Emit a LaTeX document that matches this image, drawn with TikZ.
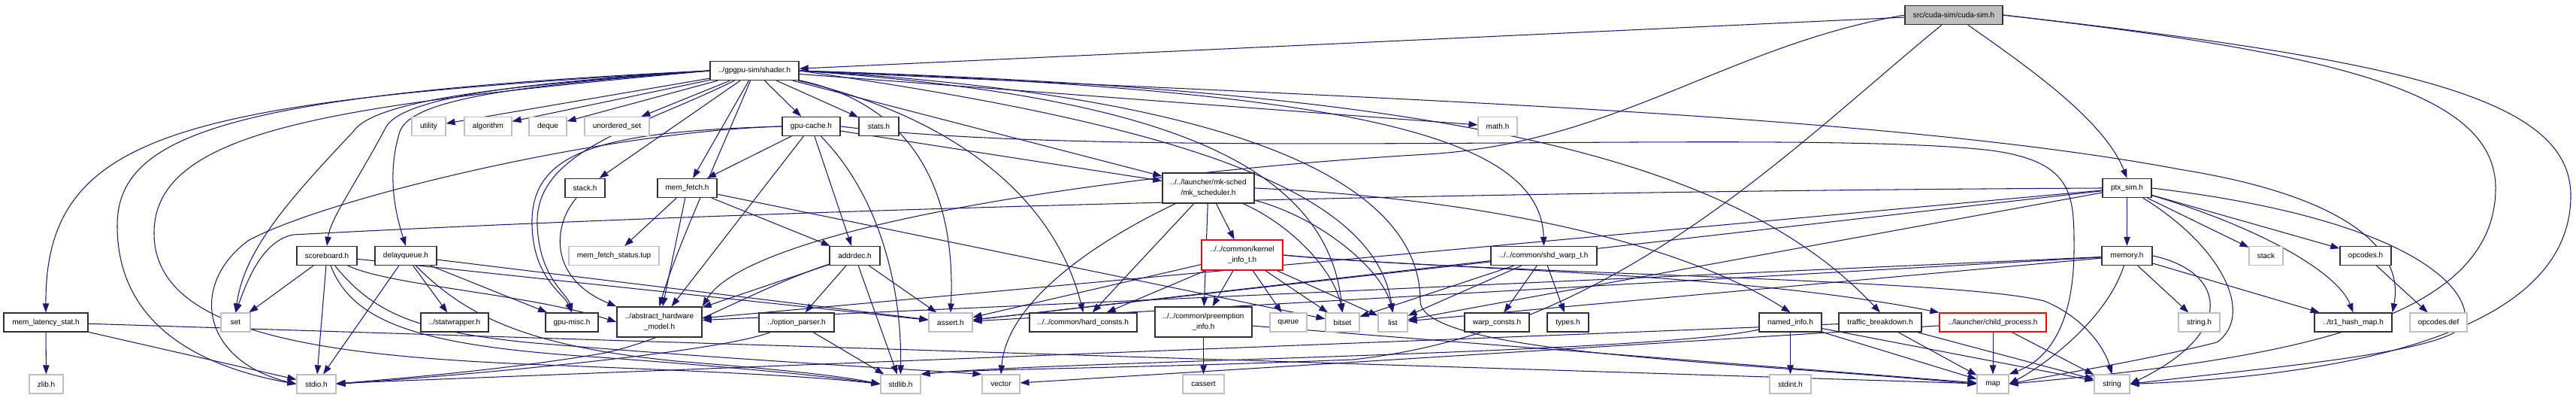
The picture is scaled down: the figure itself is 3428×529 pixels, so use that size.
\documentclass[tikz,border=0pt]{standalone}
\usepackage{fontspec}
\setmainfont{Liberation Sans}
\usetikzlibrary{arrows.meta}
\definecolor{edgeblue}{RGB}{25,25,112}
\definecolor{boxgrey}{RGB}{191,191,191}
\definecolor{frame}{RGB}{48,48,48}
\pgfdeclarelayer{bg}
\pgfsetlayers{bg,main}
\newcommand\gn[6]{\node[#5,minimum width=#4pt] (#1) at (#2,#3) {#6};}
\begin{document}
\begin{tikzpicture}[x=1pt,y=-1pt,
  every node/.style={font=\fontsize{10}{14}\selectfont, inner sep=0pt, minimum height=25pt, align=center, fill=white},
  hdr/.style={draw=frame, line width=1.4pt},
  sys/.style={draw=boxgrey, line width=1.1pt},
  redb/.style={draw=red, line width=1.3pt},
  root/.style={draw=frame, fill=boxgrey, line width=1.4pt},
  tall/.style={minimum height=40pt},
  edge/.style={draw=edgeblue, line width=1.05pt, -{Triangle[length=12pt,width=8.5pt]}},
]
\useasboundingbox (0,0) rectangle (3428,529);
% row A, B
\gn{cudasim}{2600}{20}{130}{root}{src/cuda-sim/cuda-sim.h}
\gn{shader}{1004}{94}{118}{hdr}{../gpgpu-sim/shader.h}
% row C
\gn{utility}{570.5}{168}{45}{sys}{utility}
\gn{algorithm}{649.5}{168}{63}{sys}{algorithm}
\gn{deque}{729}{168}{50}{sys}{deque}
\gn{unorderedset}{821}{168}{86}{sys}{unordered\_set}
\gn{gpucache}{1079.5}{168}{77}{hdr}{gpu-cache.h}
\gn{stats}{1169.5}{168}{53}{hdr}{stats.h}
\gn{math}{1993}{168}{52}{sys}{math.h}
% row D
\gn{stackh}{778.5}{250}{53}{hdr}{stack.h}
\gn{memfetch}{914.5}{250}{79}{hdr}{mem\_fetch.h}
\gn{mksched}{1608}{250}{122}{hdr,tall}{../../launcher/mk-sched\\/mk\_scheduler.h}
\gn{ptxsim}{2830.5}{250}{65}{hdr}{ptx\_sim.h}
% row E
\gn{scoreboard}{435}{340}{80}{hdr}{scoreboard.h}
\gn{delayqueue}{540}{340}{82}{hdr}{delayqueue.h}
\gn{memfetchstatus}{817}{340}{120}{sys}{mem\_fetch\_status.tup}
\gn{addrdec}{1137.5}{340}{67}{hdr}{addrdec.h}
\gn{kernelinfo}{1653}{339}{108}{redb,tall}{../../common/kernel\\\_info\_t.h}
\gn{shdwarp}{2054.5}{340}{141}{hdr}{../../common/shd\_warp\_t.h}
\gn{memory}{2830.5}{340}{67}{hdr}{memory.h}
\gn{stackstd}{3015.5}{340}{45}{sys}{stack}
\gn{opcodes}{3148}{340}{68}{hdr}{opcodes.h}
% row F
\gn{memlat}{61}{428.5}{112}{hdr}{mem\_latency\_stat.h}
\gn{set}{313.5}{428.5}{39}{sys}{set}
\gn{statwrapper}{605}{428.5}{90}{hdr}{../statwrapper.h}
\gn{gpumisc}{761}{428.5}{70}{hdr}{gpu-misc.h}
\gn{ahm}{877.5}{428}{113}{hdr,tall}{../abstract\_hardware\\\_model.h}
\gn{optparser}{1060}{428.5}{100}{hdr}{../option\_parser.h}
\gn{assert}{1265}{428.5}{58}{sys}{assert.h}
\gn{hardconsts}{1441.5}{428.5}{143}{hdr}{../../common/hard\_consts.h}
\gn{preempt}{1601.5}{428}{129}{hdr,tall}{../../common/preemption\\\_info.h}
\gn{queue}{1714.5}{428.5}{49}{sys}{queue}
\gn{bitset}{1786.5}{428.5}{45}{sys}{bitset}
\gn{list}{1853.5}{428.5}{39}{sys}{list}
\gn{warpconsts}{1992}{428.5}{86}{hdr}{warp\_consts.h}
\gn{types}{2086.5}{428.5}{55}{hdr}{types.h}
\gn{namedinfo}{2382.5}{428.5}{83}{hdr}{named\_info.h}
\gn{traffic}{2502}{428.5}{110}{hdr}{traffic\_breakdown.h}
\gn{childproc}{2652}{428.5}{142}{redb}{../launcher/child\_process.h}
\gn{stringh}{2926.5}{428.5}{55}{sys}{string.h}
\gn{tr1}{3131.5}{428.5}{103}{hdr}{../tr1\_hash\_map.h}
\gn{opcodesdef}{3245}{428.5}{76}{sys}{opcodes.def}
% row G
\gn{zlib}{61.5}{510.5}{45}{sys}{zlib.h}
\gn{stdio}{421}{510.5}{52}{sys}{stdio.h}
\gn{stdlib}{1198.5}{510.5}{53}{sys}{stdlib.h}
\gn{vector}{1332}{510.5}{50}{sys}{vector}
\gn{cassert}{1601.5}{510.5}{55}{sys}{cassert}
\gn{stdint}{2382.5}{510.5}{55}{sys}{stdint.h}
\gn{map}{2652}{510.5}{42}{sys}{map}
\gn{string}{2810.5}{510.5}{47}{sys}{string}

\begin{pgfonlayer}{bg}
% straight connectors
\foreach \a/\b in {cudasim/shader,
  shader/utility, shader/algorithm, shader/deque, shader/unorderedset, shader/gpucache, shader/stats,
  shader/math, shader/stackh, shader/memfetch, shader/mksched,
  gpucache/memfetch, gpucache/ahm, gpucache/addrdec, gpucache/mksched,
  memfetch/memfetchstatus, memfetch/ahm, memfetch/addrdec, memfetch/bitset,
  mksched/hardconsts, mksched/preempt, mksched/kernelinfo,
  ptxsim/memory, ptxsim/stackstd, ptxsim/opcodes, ptxsim/assert, ptxsim/list, ptxsim/ahm,
  scoreboard/set, scoreboard/stdio, scoreboard/assert,
  delayqueue/stdio, delayqueue/statwrapper, delayqueue/gpumisc, delayqueue/assert,
  addrdec/ahm, addrdec/optparser, addrdec/stdlib, addrdec/assert,
  optparser/stdlib,
  kernelinfo/hardconsts, kernelinfo/preempt, kernelinfo/queue, kernelinfo/bitset, kernelinfo/list, kernelinfo/assert,
  shdwarp/warpconsts, shdwarp/types, shdwarp/bitset, shdwarp/list, shdwarp/assert,
  memory/ahm, memory/assert, memory/list, memory/stringh, memory/tr1,
  opcodes/opcodesdef,
  memlat/zlib, memlat/stdio, memlat/map,
  preempt/cassert, preempt/map,
  namedinfo/stdint, namedinfo/map, namedinfo/string,
  traffic/map, traffic/string, traffic/stdio,
  childproc/map, childproc/string, childproc/vector}
  \draw[edge] (\a) -- (\b);
% curved connectors from the root
\draw[edge] (cudasim) .. controls (2700,90) and (2800,160) .. (ptxsim.north);
\draw[edge] (cudasim.west) .. controls (2300,60) and (2150,190) .. (1900,205) .. controls (1500,228) and (1000,300) .. (ahm.north east);
\draw[edge] (cudasim) .. controls (2380,200) and (2150,440) .. (1800,478) .. controls (1500,490) and (1300,490) .. (stdlib.north east);
\draw[edge] (cudasim.east) .. controls (3100,70) and (3321,120) .. (3321,250) .. controls (3321,440) and (3000,480) .. (map.east);
\draw[edge] (cudasim.east) .. controls (3200,80) and (3421,130) .. (3421,260) .. controls (3421,450) and (3100,500) .. (string.east);
% curved connectors from shader.h
\draw[edge] (shader.west) .. controls (250,135) and (60,170) .. (memlat.north);
\draw[edge] (shader.west) .. controls (300,125) and (156,180) .. (156,300) .. controls (156,440) and (280,490) .. (stdio.west);
\draw[edge] (shader.west) .. controls (450,140) and (205,170) .. (205,310) .. controls (205,450) and (450,475) .. (750,486) .. controls (950,494) and (1080,500) .. (stdlib.west);
\draw[edge] (shader.west) .. controls (700,112) and (500,130) .. (470,175) .. controls (390,260) and (325,330) .. (set.north);
\draw[edge] (shader.west) .. controls (700,110) and (530,128) .. (512,172) .. controls (470,250) and (440,290) .. (scoreboard.north);
\draw[edge] (shader.west) .. controls (700,113) and (548,130) .. (532,175) .. controls (515,230) and (525,280) .. (delayqueue.north);
\draw[edge] (shader) .. controls (850,170) and (710,200) .. (715,300) .. controls (718,370) and (755,390) .. (gpumisc.north);
\draw[edge] (shader) .. controls (960,200) and (900,330) .. (ahm.north);
\draw[edge] (shader) .. controls (1220,140) and (1272,260) .. (assert.north);
\draw[edge] (shader.east) .. controls (1500,125) and (1765,200) .. (bitset.north);
\draw[edge] (shader.east) .. controls (1600,170) and (1830,260) .. (list.north);
\draw[edge] (shader) .. controls (1250,150) and (1400,250) .. (hardconsts.north);
\draw[edge] (shader.east) .. controls (1700,130) and (1890,260) .. (1890,400) .. controls (1890,470) and (2300,480) .. (map.west);
\draw[edge] (shader.east) .. controls (1800,130) and (2500,150) .. (2900,225) .. controls (3120,260) and (3200,330) .. (tr1.north east);
\draw[edge] (shader.east) .. controls (1800,120) and (2050,180) .. (shdwarp.north);
\draw[edge] (shader.east) .. controls (1900,120) and (2300,200) .. (traffic.north);
% gpu-cache.h
\draw[edge] (gpucache.west) .. controls (800,175) and (430,265) .. (330,320) .. controls (250,380) and (270,480) .. (stdio.west);
\draw[edge] (gpucache.west) .. controls (800,175) and (705,200) .. (708,300) .. controls (710,370) and (750,390) .. (gpumisc.north);
\draw[edge] (gpucache) .. controls (1170,260) and (1200,380) .. (stdlib.north);
\draw[edge] (gpucache.east) .. controls (1500,215) and (2400,170) .. (2650,200) .. controls (2760,215) and (2760,260) .. (2760,330) .. controls (2760,440) and (2720,480) .. (map.north east);
% stack.h
\draw[edge] (stackh) .. controls (735,300) and (730,370) .. (ahm.north west);
% mk_scheduler.h
\draw[edge] (mksched) .. controls (1460,320) and (1340,400) .. (vector.north);
\draw[edge] (mksched) .. controls (1720,300) and (1775,360) .. (bitset.north);
\draw[edge] (mksched) .. controls (1760,290) and (1840,360) .. (list.north);
\draw[edge] (mksched.east) .. controls (2000,265) and (2250,330) .. (namedinfo.north);
% ptx_sim.h
\draw[edge] (ptxsim.west) .. controls (1800,255) and (900,285) .. (390,312) .. controls (350,320) and (330,370) .. (set.north);
\draw[edge] (ptxsim) .. controls (3000,300) and (3110,360) .. (tr1.north);
\draw[edge] (ptxsim) .. controls (2960,330) and (3000,420) .. (2950,455) .. controls (2850,480) and (2750,495) .. (map.east);
\draw[edge] (ptxsim.east) .. controls (3200,290) and (3290,380) .. (3280,430) .. controls (3260,470) and (3000,490) .. (string.east);
% memory.h
\draw[edge] (memory) .. controls (2805,420) and (2730,480) .. (map.east);
\draw[edge] (memory.east) .. controls (2960,360) and (2980,440) .. (string.east);
% scoreboard.h
\draw[edge] (scoreboard) .. controls (470,430) and (560,460) .. (800,475) .. controls (1000,490) and (1100,500) .. (stdlib.west);
\draw[edge] (scoreboard) .. controls (500,420) and (560,440) .. (700,455) .. controls (1000,480) and (1200,490) .. (vector.north west);
\draw[edge] (scoreboard) .. controls (520,380) and (700,390) .. (ahm.west);
% delayqueue.h
\draw[edge] (delayqueue) .. controls (620,420) and (700,460) .. (900,480) .. controls (1050,492) and (1120,500) .. (stdlib.west);
% addrdec.h / option_parser.h
\draw[edge] (addrdec) .. controls (1000,385) and (900,450) .. (800,470) .. controls (650,495) and (500,505) .. (stdio.east);
\draw[edge] (optparser) .. controls (950,470) and (600,500) .. (stdio.east);
% kernel_info_t.h
\draw[edge] (kernelinfo.east) .. controls (1900,358) and (2300,360) .. (childproc.north west);
\draw[edge] (kernelinfo.east) .. controls (2000,365) and (2600,370) .. (2720,400) .. controls (2770,420) and (2800,460) .. (string.north);
% named_info.h
\draw[edge] (namedinfo) .. controls (2200,470) and (1400,480) .. (stdlib.north east);
\end{pgfonlayer}
\end{tikzpicture}
\end{document}
